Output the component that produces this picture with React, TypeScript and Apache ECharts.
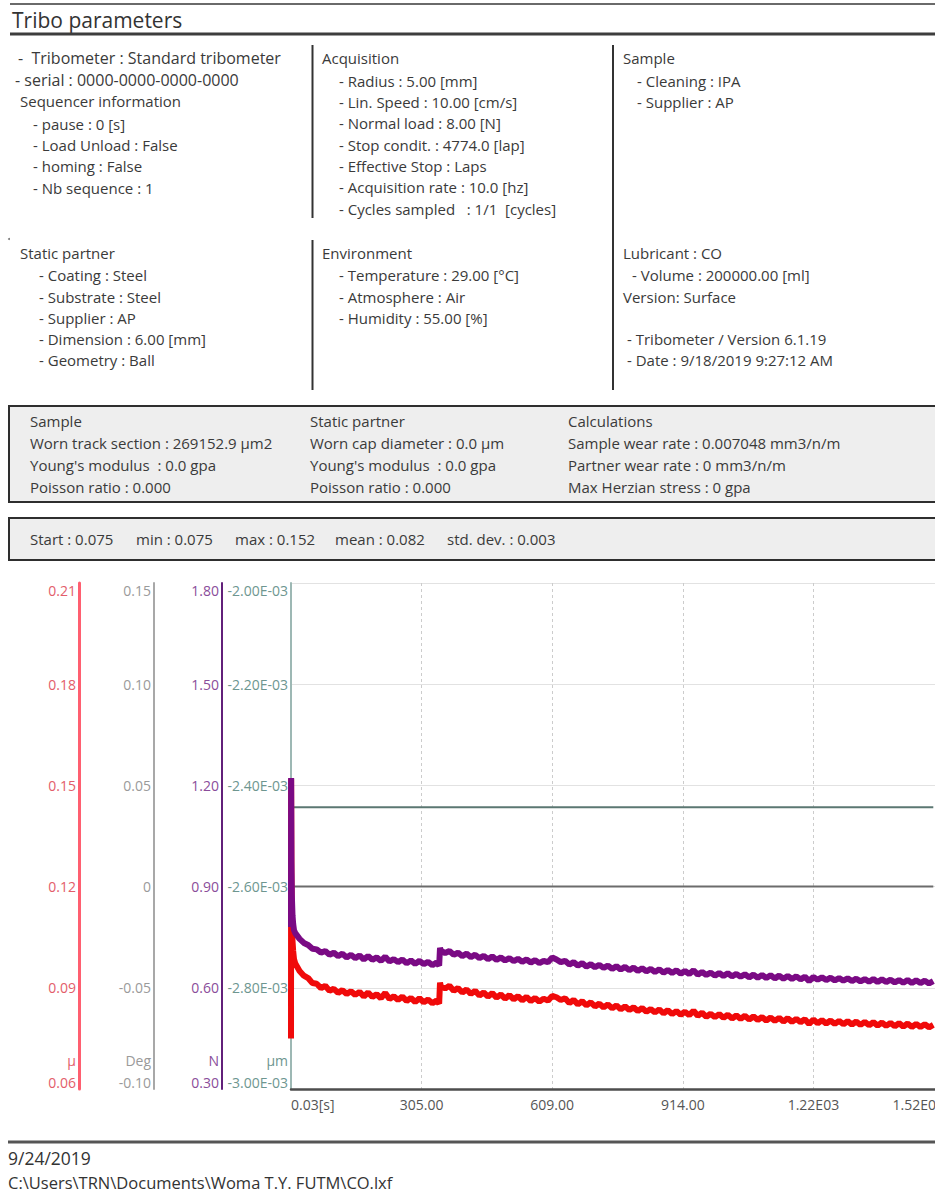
import React, { useEffect, useRef } from "react";
import * as echarts from "echarts";

// ---- Test record: sample times [s] and the two friction channels ----
const timeS = [
  0.03, 0.3, 1, 2, 3.5, 5, 7, 10,
  20, 30, 40, 50, 60, 70, 80, 90, 100, 110, 120, 130, 140, 150, 160, 170, 180, 190, 200,
  210, 220, 230, 240, 250, 260, 270, 280, 290, 300, 310, 320, 330, 340, 346, 348,
  350, 360, 370, 380, 390, 400, 410, 420, 430, 440, 450, 460, 470, 480, 490, 500,
  510, 520, 530, 540, 550, 560, 570, 580, 590, 600, 610, 620, 630, 640, 650, 660,
  670, 680, 690, 700, 710, 720, 730, 740, 750, 760, 770, 780, 790, 800, 810, 820,
  830, 840, 850, 860, 870, 880, 890, 900, 910, 920, 930, 940, 950, 960, 970, 980,
  990, 1000, 1010, 1020, 1030, 1040, 1050, 1060, 1070, 1080, 1090, 1100, 1110, 1120,
  1130, 1140, 1150, 1160, 1170, 1180, 1190, 1200, 1210, 1220, 1230, 1240, 1250, 1260,
  1270, 1280, 1290, 1300, 1310, 1320, 1330, 1340, 1350, 1360, 1370, 1380, 1390, 1400,
  1410, 1420, 1430, 1440, 1450, 1460, 1470, 1480, 1490, 1500,
];

// friction coefficient µ
const frictionCoef = [
  0.075, 0.152, 0.124, 0.111, 0.104, 0.101, 0.0985, 0.0972,
  0.095, 0.0936, 0.0929, 0.0914, 0.0912, 0.0899, 0.0906, 0.0891, 0.0897, 0.0885, 0.0893, 0.0882, 0.089, 0.0879, 0.0888, 0.0874, 0.0886, 0.0873, 0.0881,
  0.0869, 0.0885, 0.0867, 0.0875, 0.0864, 0.0874, 0.0861, 0.087, 0.0858, 0.0869, 0.0857, 0.0865, 0.0854, 0.0862, 0.0853, 0.0915,
  0.0905, 0.0898, 0.0906, 0.0891, 0.0899, 0.0886, 0.0895, 0.0882, 0.0891, 0.0877, 0.0886, 0.0874, 0.0884, 0.0871, 0.088, 0.0868,
  0.0878, 0.0866, 0.0875, 0.0863, 0.0873, 0.0861, 0.087, 0.0859, 0.0868, 0.0862, 0.0876, 0.0872, 0.0864, 0.0869, 0.0855, 0.0864,
  0.0851, 0.086, 0.0848, 0.0857, 0.0845, 0.0853, 0.0842, 0.0851, 0.0839, 0.0848, 0.0836, 0.0845, 0.0834, 0.0842, 0.0831, 0.084,
  0.0829, 0.0837, 0.0827, 0.0836, 0.0824, 0.0834, 0.0822, 0.0831, 0.082, 0.0829, 0.0819, 0.0832, 0.0817, 0.0826, 0.0814, 0.0823,
  0.0813, 0.0822, 0.0811, 0.082, 0.0809, 0.0818, 0.0808, 0.0817, 0.0806, 0.0815, 0.0805, 0.0813, 0.0803, 0.0812,
  0.0802, 0.0811, 0.08, 0.081, 0.0799, 0.0808, 0.0798, 0.0807, 0.0793, 0.0806, 0.0795, 0.0804, 0.0794, 0.0803,
  0.0793, 0.0802, 0.0792, 0.0801, 0.0791, 0.08, 0.079, 0.0799, 0.0789, 0.0798, 0.0788, 0.0797, 0.0787, 0.0796,
  0.0786, 0.0795, 0.0785, 0.0794, 0.0784, 0.0793, 0.0784, 0.0792, 0.0783, 0.079,
];

// tangential force [N]
const frictionForce = [
  0.78, 1.222, 0.975, 0.872, 0.815, 0.79, 0.771, 0.762,
  0.745, 0.733, 0.727, 0.716, 0.714, 0.704, 0.709, 0.698, 0.704, 0.694, 0.701, 0.69, 0.698, 0.688, 0.696, 0.684, 0.694, 0.683, 0.69,
  0.68, 0.692, 0.678, 0.685, 0.676, 0.684, 0.673, 0.681, 0.671, 0.68, 0.67, 0.677, 0.667, 0.675, 0.666, 0.718,
  0.71, 0.703, 0.709, 0.698, 0.704, 0.694, 0.701, 0.691, 0.698, 0.688, 0.695, 0.685, 0.693, 0.683, 0.69, 0.681,
  0.688, 0.679, 0.686, 0.677, 0.684, 0.675, 0.682, 0.673, 0.68, 0.676, 0.69, 0.684, 0.676, 0.68, 0.669, 0.676,
  0.666, 0.673, 0.663, 0.67, 0.661, 0.668, 0.659, 0.666, 0.656, 0.664, 0.654, 0.662, 0.652, 0.66, 0.65, 0.658,
  0.649, 0.656, 0.647, 0.655, 0.645, 0.653, 0.644, 0.652, 0.642, 0.65, 0.641, 0.652, 0.639, 0.647, 0.638, 0.645,
  0.636, 0.644, 0.635, 0.643, 0.634, 0.641, 0.633, 0.64, 0.631, 0.639, 0.63, 0.638, 0.629, 0.637,
  0.628, 0.636, 0.627, 0.635, 0.626, 0.634, 0.625, 0.633, 0.62, 0.632, 0.624, 0.631, 0.623, 0.63,
  0.622, 0.629, 0.621, 0.628, 0.62, 0.627, 0.619, 0.626, 0.618, 0.626, 0.617, 0.625, 0.617, 0.624,
  0.616, 0.623, 0.615, 0.623, 0.614, 0.622, 0.614, 0.621, 0.613, 0.62,
];

// flat channels: rotation angle [Deg] and penetration depth [µm]
const flatTime = [0.03, 1500];
const angleDeg = [0, 0];
const depthUm = [-2.443e-3, -2.443e-3];

// axis tick labels
const timeTicks = ["0.03[s]", "305.00", "609.00", "914.00", "1.22E03", "1.52E03"];
const muTicks = ["0.06", "0.09", "0.12", "0.15", "0.18", "0.21"];
const degTicks = ["-0.10", "-0.05", "0", "0.05", "0.10", "0.15"];
const forceTicks = ["0.30", "0.60", "0.90", "1.20", "1.50", "1.80"];
const depthTicks = ["-3.00E-03", "-2.80E-03", "-2.60E-03", "-2.40E-03", "-2.20E-03", "-2.00E-03"];

// ---- Report header text ----
const triboInfo = ["-  Tribometer : Standard tribometer", "- serial : 0000-0000-0000-0000"];
const sequencerTitle = "Sequencer information";
const sequencerInfo = ["- pause : 0 [s]", "- Load Unload : False", "- homing : False", "- Nb sequence : 1"];
const acquisitionTitle = "Acquisition";
const acquisitionInfo = [
  "- Radius : 5.00 [mm]",
  "- Lin. Speed : 10.00 [cm/s]",
  "- Normal load : 8.00 [N]",
  "- Stop condit. : 4774.0 [lap]",
  "- Effective Stop : Laps",
  "- Acquisition rate : 10.0 [hz]",
  "- Cycles sampled   : 1/1  [cycles]",
];
const sampleTitle = "Sample";
const sampleInfo = ["- Cleaning : IPA", "- Supplier : AP"];
const partnerTitle = "Static partner";
const partnerInfo = ["- Coating : Steel", "- Substrate : Steel", "- Supplier : AP", "- Dimension : 6.00 [mm]", "- Geometry : Ball"];
const environmentTitle = "Environment";
const environmentInfo = ["- Temperature : 29.00 [°C]", "- Atmosphere : Air", "- Humidity : 55.00 [%]"];
const lubricantTitle = "Lubricant : CO";
const lubricantInfo = ["- Volume : 200000.00 [ml]"];
const versionTitle = "Version: Surface";
const versionInfo = ["- Tribometer / Version 6.1.19", "- Date : 9/18/2019 9:27:12 AM"];

const sampleWear = ["Sample", "Worn track section : 269152.9 µm2", "Young's modulus  : 0.0 gpa", "Poisson ratio : 0.000"];
const partnerWear = ["Static partner", "Worn cap diameter : 0.0 µm", "Young's modulus  : 0.0 gpa", "Poisson ratio : 0.000"];
const calculations = ["Calculations", "Sample wear rate : 0.007048 mm3/n/m", "Partner wear rate : 0 mm3/n/m", "Max Herzian stress : 0 gpa"];
const frictionStats = ["Start : 0.075", "min : 0.075", "max : 0.152", "mean : 0.082", "std. dev. : 0.003"];

const reportTitle = "Tribo parameters";
const footerDate = "9/24/2019";
const footerPath = "C:\\Users\\TRN\\Documents\\Woma T.Y. FUTM\\CO.lxf";

const FONT = '"Open Sans", "Noto Sans", sans-serif';
const INK = "#3a3a3a";

function txt(x: number, y: number, text: string, size = 15, fill = INK) {
  return {
    type: "text",
    x,
    y,
    silent: true,
    style: { text, fill, fontSize: size, fontFamily: FONT, align: "left", verticalAlign: "middle" },
  };
}

function block(x: number, ys: number[], lines: string[], size = 15) {
  return lines.map((l, i) => txt(x, ys[i], l, size));
}

function hline(x1: number, x2: number, y: number, color: string, w: number) {
  return { type: "line", silent: true, shape: { x1, y1: y, x2, y2: y }, style: { stroke: color, lineWidth: w } };
}

function vline(x: number, y1: number, y2: number, color: string, w: number) {
  return { type: "line", silent: true, shape: { x1: x, y1, x2: x, y2 }, style: { stroke: color, lineWidth: w } };
}

function box(y: number, h: number) {
  return {
    type: "rect",
    silent: true,
    shape: { x: 9, y, width: 980, height: h },
    style: { fill: "#eeeeee", stroke: "#2e2e2e", lineWidth: 2 },
  };
}

const statX = [30, 136, 235, 335, 447];

const graphicElements: any[] = [
  hline(10, 990, 4, "#6a6a6a", 2),
  txt(12, 20, reportTitle, 21, "#333"),
  hline(10, 990, 34, "#3d3d3d", 3),
  vline(312.5, 45, 218, "#333", 2),
  vline(312.5, 240, 390, "#333", 2),
  vline(613, 45, 390, "#333", 2),
  txt(18, 58, triboInfo[0], 16),
  txt(15, 80, triboInfo[1], 16),
  txt(20, 101, sequencerTitle),
  ...block(33, [124, 145, 166, 188], sequencerInfo),
  txt(322, 58, acquisitionTitle),
  ...block(339, [81, 102, 123, 145, 166, 187, 209], acquisitionInfo),
  txt(623, 58, sampleTitle),
  ...block(637, [81, 102], sampleInfo),
  { type: "circle", silent: true, shape: { cx: 9, cy: 239, r: 1 }, style: { fill: "#777" } },
  txt(20, 253, partnerTitle),
  ...block(39, [275, 297, 318, 339, 360], partnerInfo),
  txt(322, 253, environmentTitle),
  ...block(339, [275, 297, 318], environmentInfo),
  txt(623, 253, lubricantTitle),
  ...block(632, [275], lubricantInfo),
  txt(623, 297, versionTitle),
  ...block(627, [339, 360], versionInfo),
  box(406, 96),
  ...block(30, [421, 443, 465, 487], sampleWear),
  ...block(310, [421, 443, 465, 487], partnerWear),
  ...block(568, [421, 443, 465, 487], calculations),
  box(518, 42),
  ...frictionStats.map((s, i) => txt(statX[i], 539, s)),
  hline(8, 990, 1142, "#555", 3),
  txt(8, 1158, footerDate, 17.5, "#333"),
  txt(8, 1182, footerPath, 16.5, "#333"),
];

function valueAxis(
  offset: number,
  labelColor: string,
  lineColor: string,
  lineWidth: number,
  name: string,
  ticks: string[],
  min: number,
  max: number,
  interval: number,
  grid: boolean
) {
  return {
    type: "value",
    position: "left",
    offset,
    min,
    max,
    interval,
    name,
    nameLocation: "start",
    nameGap: -29,
    nameTextStyle: {
      color: labelColor,
      fontSize: 14,
      fontFamily: FONT,
      align: "right",
      verticalAlign: "middle",
      padding: [0, 3, 0, 0],
    },
    axisLine: { show: true, onZero: false, lineStyle: { color: lineColor, width: lineWidth } },
    axisTick: { show: false },
    axisLabel: {
      color: labelColor,
      fontSize: 14,
      fontFamily: FONT,
      margin: 3,
      formatter: (_v: number, i: number) => ticks[i],
      verticalAlignMinLabel: "bottom",
      verticalAlignMaxLabel: "top",
    },
    splitLine: { show: grid, lineStyle: { color: "#e2e2e2", width: 1 } },
  };
}

export default function App() {
  const ref = useRef<HTMLDivElement>(null);

  useEffect(() => {
    if (!ref.current) return;
    const chart = echarts.init(ref.current, null, { renderer: "svg" });
    const pairs = (ts: number[], vs: number[]) => ts.map((t, i) => [t, vs[i]]);

    chart.setOption({
      animation: false,
      backgroundColor: "#ffffff",
      graphic: { elements: graphicElements },
      grid: { left: 291, top: 583, width: 653, height: 506, containLabel: false },
      xAxis: {
        type: "value",
        min: 0,
        max: 1525,
        interval: 305,
        axisLine: { show: true, onZero: false, lineStyle: { color: "#4d4d4d", width: 2.5 } },
        axisTick: { show: false },
        axisLabel: {
          color: "#555",
          fontSize: 14,
          fontFamily: FONT,
          margin: 8,
          formatter: (_v: number, i: number) => timeTicks[i],
          alignMinLabel: "left",
          alignMaxLabel: "right",
        },
        splitLine: { show: true, lineStyle: { color: "#cccccc", type: [3, 3], width: 1 } },
      },
      yAxis: [
        valueAxis(212, "#e35d6a", "#ff5f70", 3, "μ", muTicks, 0.06, 0.21, 0.03, true),
        valueAxis(137, "#9a9a9a", "#a8a8a8", 2, "Deg", degTicks, -0.1, 0.15, 0.05, false),
        valueAxis(69, "#8a4d9a", "#62207a", 2, "N", forceTicks, 0.3, 1.8, 0.3, false),
        valueAxis(0, "#6e9690", "#9db8b4", 2, "µm", depthTicks, -3.0e-3, -2.0e-3, 0.2e-3, false),
      ],
      series: [
        {
          type: "line",
          name: "Deg",
          yAxisIndex: 1,
          symbol: "none",
          silent: true,
          data: pairs(flatTime, angleDeg),
          lineStyle: { color: "#6c6c6c", width: 2 },
        },
        {
          type: "line",
          name: "µm",
          yAxisIndex: 3,
          symbol: "none",
          silent: true,
          data: pairs(flatTime, depthUm),
          lineStyle: { color: "#5b7772", width: 2 },
        },
        {
          type: "line",
          name: "μ",
          yAxisIndex: 0,
          symbol: "none",
          silent: true,
          data: pairs(timeS, frictionCoef),
          lineStyle: { color: "#f00a0a", width: 6 },
        },
        {
          type: "line",
          name: "N",
          yAxisIndex: 2,
          symbol: "none",
          silent: true,
          data: pairs(timeS, frictionForce),
          lineStyle: { color: "#7a0a84", width: 6 },
        },
      ],
    });

    return () => chart.dispose();
  }, []);

  return (
    <div
      style={{
        position: "absolute",
        left: 0,
        top: 0,
        width: 935,
        height: 1196,
        overflow: "hidden",
        background: "#ffffff",
      }}
    >
      <div ref={ref} style={{ width: 990, height: 1196 }} />
    </div>
  );
}
